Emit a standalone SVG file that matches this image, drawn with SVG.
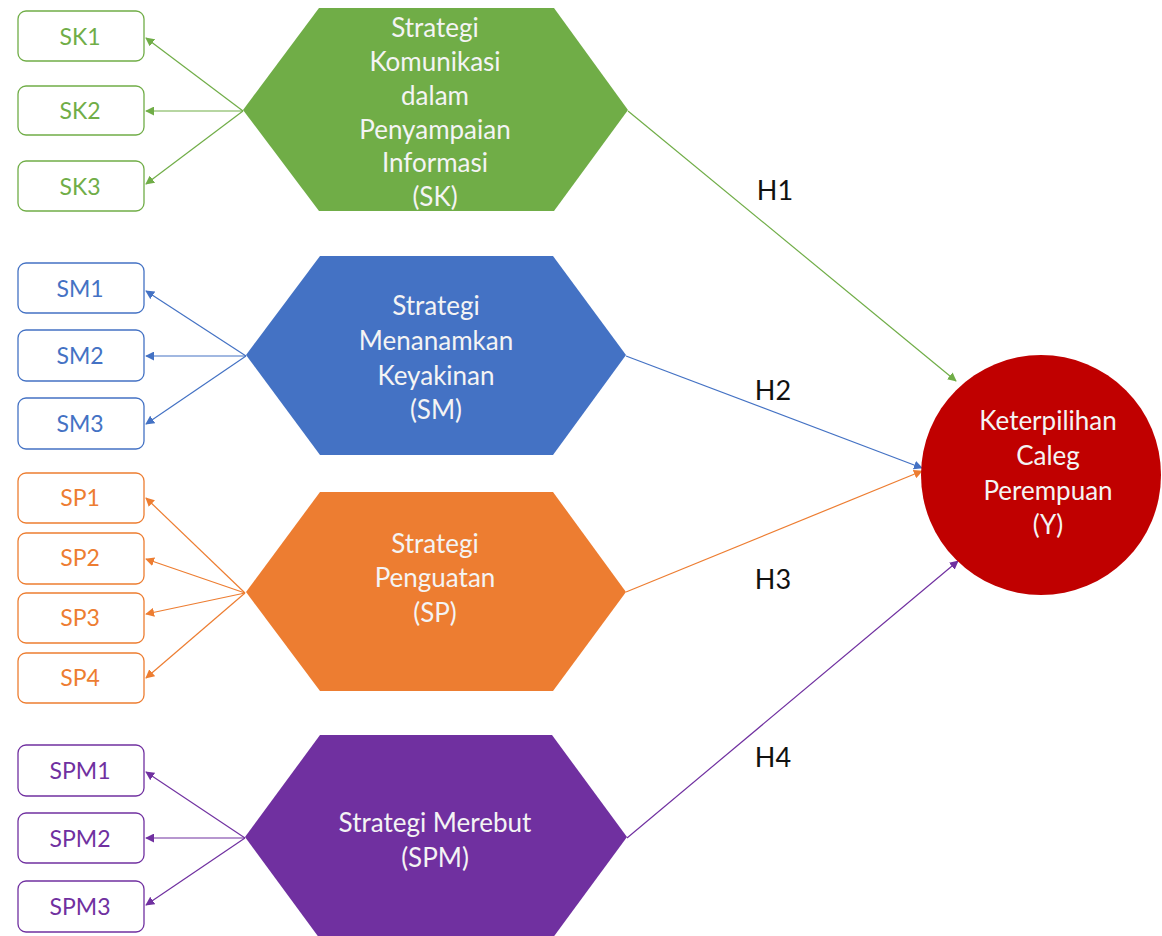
<svg xmlns="http://www.w3.org/2000/svg" width="1162" height="936" viewBox="0 0 1162 936">
<style>
text{font-family:Lato,"Open Sans","Liberation Sans",sans-serif;text-anchor:middle;dominant-baseline:central}
.ind{fill:#fff;stroke-width:1.3}
.it{font-size:23px}
.ht{font-size:26px;fill:#f4f4f4}
.lab{font-size:27px;fill:#111}
.c{fill:none;stroke-width:1.2}
.g{stroke:#70AD47}.gt{fill:#70AD47}
.b{stroke:#4472C4}.bt{fill:#4472C4}
.o{stroke:#ED7D31}.ot{fill:#ED7D31}
.p{stroke:#7030A0}.pt{fill:#7030A0}
</style>
<defs>
<marker id="ag" viewBox="0 0 10 10" refX="9" refY="5" markerWidth="9" markerHeight="9" markerUnits="userSpaceOnUse" orient="auto"><path d="M0,0L10,5L0,10z" fill="#70AD47"/></marker>
<marker id="ab" viewBox="0 0 10 10" refX="9" refY="5" markerWidth="9" markerHeight="9" markerUnits="userSpaceOnUse" orient="auto"><path d="M0,0L10,5L0,10z" fill="#4472C4"/></marker>
<marker id="ao" viewBox="0 0 10 10" refX="9" refY="5" markerWidth="9" markerHeight="9" markerUnits="userSpaceOnUse" orient="auto"><path d="M0,0L10,5L0,10z" fill="#ED7D31"/></marker>
<marker id="ap" viewBox="0 0 10 10" refX="9" refY="5" markerWidth="9" markerHeight="9" markerUnits="userSpaceOnUse" orient="auto"><path d="M0,0L10,5L0,10z" fill="#7030A0"/></marker>
</defs>
<rect width="1162" height="936" fill="#fff"/>

<g id="connectors">
<g class="c g" marker-end="url(#ag)">
<line x1="243" y1="111" x2="146" y2="38"/>
<line x1="243" y1="111" x2="146" y2="111"/>
<line x1="243" y1="111" x2="146" y2="184"/>
<line x1="628" y1="111" x2="956" y2="381"/>
</g>
<g class="c b" marker-end="url(#ab)">
<line x1="246" y1="356" x2="146" y2="291"/>
<line x1="246" y1="356" x2="146" y2="356"/>
<line x1="246" y1="356" x2="146" y2="424"/>
<line x1="626" y1="356" x2="922" y2="468"/>
</g>
<g class="c o" marker-end="url(#ao)">
<line x1="245" y1="593" x2="146" y2="498"/>
<line x1="245" y1="593" x2="146" y2="559"/>
<line x1="245" y1="593" x2="146" y2="614"/>
<line x1="245" y1="593" x2="146" y2="678"/>
<line x1="626" y1="592" x2="922" y2="471"/>
</g>
<g class="c p" marker-end="url(#ap)">
<line x1="245" y1="838" x2="146" y2="772"/>
<line x1="245" y1="838" x2="146" y2="838"/>
<line x1="245" y1="838" x2="146" y2="905"/>
<line x1="627" y1="838" x2="958" y2="561"/>
</g>
<text class="lab" x="775" y="189">H1</text>
<text class="lab" x="773" y="389">H2</text>
<text class="lab" x="773" y="578">H3</text>
<text class="lab" x="773" y="756">H4</text>
</g>

<g id="SK1"><rect class="ind g" x="18" y="11" width="126" height="50" rx="8"/><text class="it gt" x="80" y="36">SK1</text></g>
<g id="SK2"><rect class="ind g" x="18" y="86" width="126" height="49" rx="8"/><text class="it gt" x="80" y="110">SK2</text></g>
<g id="SK3"><rect class="ind g" x="18" y="161" width="126" height="50" rx="8"/><text class="it gt" x="80" y="186">SK3</text></g>

<g id="SM1"><rect class="ind b" x="18" y="263" width="126" height="50" rx="8"/><text class="it bt" x="80" y="288">SM1</text></g>
<g id="SM2"><rect class="ind b" x="18" y="330" width="126" height="51" rx="8"/><text class="it bt" x="80" y="355">SM2</text></g>
<g id="SM3"><rect class="ind b" x="18" y="398" width="126" height="51" rx="8"/><text class="it bt" x="80" y="423">SM3</text></g>

<g id="SP1"><rect class="ind o" x="18" y="473" width="126" height="50" rx="8"/><text class="it ot" x="80" y="497">SP1</text></g>
<g id="SP2"><rect class="ind o" x="18" y="533" width="126" height="51" rx="8"/><text class="it ot" x="80" y="557">SP2</text></g>
<g id="SP3"><rect class="ind o" x="18" y="593" width="126" height="50" rx="8"/><text class="it ot" x="80" y="617">SP3</text></g>
<g id="SP4"><rect class="ind o" x="18" y="653" width="126" height="50" rx="8"/><text class="it ot" x="80" y="677">SP4</text></g>

<g id="SPM1"><rect class="ind p" x="18" y="745" width="126" height="51" rx="8"/><text class="it pt" x="80" y="770">SPM1</text></g>
<g id="SPM2"><rect class="ind p" x="18" y="813" width="126" height="50" rx="8"/><text class="it pt" x="80" y="838">SPM2</text></g>
<g id="SPM3"><rect class="ind p" x="18" y="881" width="126" height="51" rx="8"/><text class="it pt" x="80" y="906">SPM3</text></g>

<g id="SK">
<polygon points="243,110 319,8 554,8 628,110 554,211 319,211" fill="#70AD47"/>
<text class="ht" x="435" y="27">Strategi</text>
<text class="ht" x="435" y="61">Komunikasi</text>
<text class="ht" x="435" y="95">dalam</text>
<text class="ht" x="435" y="129">Penyampaian</text>
<text class="ht" x="435" y="162">Informasi</text>
<text class="ht" x="435" y="196">(SK)</text>
</g>
<g id="SM">
<polygon points="246,355 320,256 553,256 626,355 553,455 320,455" fill="#4472C4"/>
<text class="ht" x="436" y="305">Strategi</text>
<text class="ht" x="436" y="340">Menanamkan</text>
<text class="ht" x="436" y="375">Keyakinan</text>
<text class="ht" x="436" y="409">(SM)</text>
</g>
<g id="SP">
<polygon points="246,592 320,492 553,492 626,592 553,691 320,691" fill="#ED7D31"/>
<text class="ht" x="435" y="543">Strategi</text>
<text class="ht" x="435" y="577">Penguatan</text>
<text class="ht" x="435" y="612">(SP)</text>
</g>
<g id="SPM">
<polygon points="245,837 320,735 552,735 627,837 552,939 320,939" fill="#7030A0"/>
<text class="ht" x="435" y="822">Strategi Merebut</text>
<text class="ht" x="435" y="857">(SPM)</text>
</g>
<g id="Y">
<circle cx="1041" cy="475" r="120" fill="#C00000"/>
<text class="ht" x="1048" y="420">Keterpilihan</text>
<text class="ht" x="1048" y="455">Caleg</text>
<text class="ht" x="1048" y="490">Perempuan</text>
<text class="ht" x="1048" y="524">(Y)</text>
</g>
</svg>
